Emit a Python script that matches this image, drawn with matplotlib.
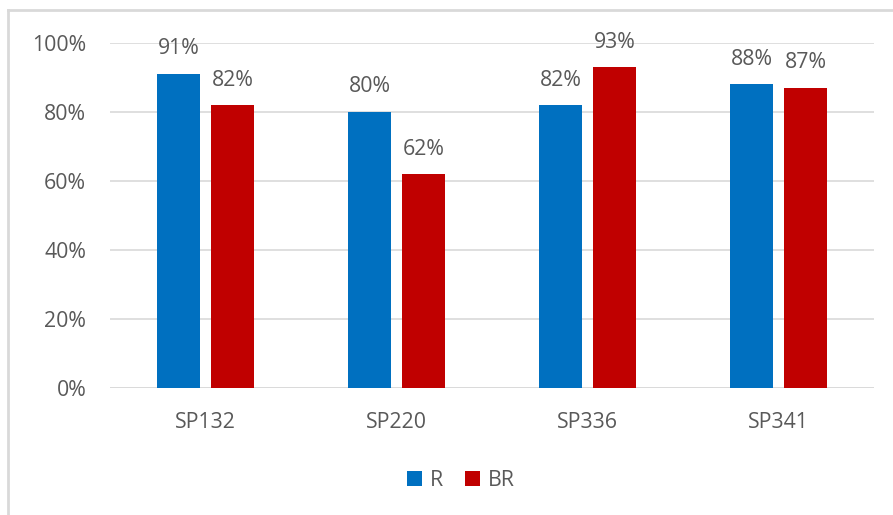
import matplotlib
matplotlib.use("Agg")
import matplotlib.pyplot as plt
from matplotlib.lines import Line2D
import numpy as np

categories = ["SP132", "SP220", "SP336", "SP341"]
r_values = [0.91, 0.80, 0.82, 0.88]
br_values = [0.82, 0.62, 0.93, 0.87]
series_names = ["R", "BR"]
yticks = [0, 0.2, 0.4, 0.6, 0.8, 1.0]
ytick_labels = ["0%", "20%", "40%", "60%", "80%", "100%"]

BLUE = "#0070C0"
RED = "#C00000"
TXT = "#595959"
FONT = "Open Sans"
FS = 15.3

plt.rcParams['font.family'] = [FONT, 'DejaVu Sans']

fig = plt.figure(figsize=(8.93, 5.15), dpi=100)
ax = fig.add_axes([0.123, 0.2466, 0.856, 0.6699])

x = np.arange(len(categories))
w = 0.225
off = 0.141
b1 = ax.bar(x - off, r_values, w, color=BLUE, label=series_names[0], zorder=3)
b2 = ax.bar(x + off, br_values, w, color=RED, label=series_names[1], zorder=3)

for bars, vals in ((b1, r_values), (b2, br_values)):
    for b, v in zip(bars, vals):
        ax.annotate(f"{round(v*100)}%", (b.get_x() + b.get_width()/2, v),
                    xytext=(0, 10.5), textcoords="offset points",
                    ha="center", va="bottom", fontsize=FS, color=TXT)

ax.set_xlim(-0.5, len(categories) - 0.5)
ax.set_ylim(0, 1.0)
ax.set_yticks(yticks)
ax.set_yticklabels(ytick_labels)
ax.set_xticks(x)
ax.set_xticklabels(categories)
ax.tick_params(axis="y", length=0, pad=17, labelsize=FS, labelcolor=TXT)
ax.tick_params(axis="x", length=0, pad=17, labelsize=FS, labelcolor=TXT)
ax.grid(axis="y", color="#D9D9D9", linewidth=1.2, zorder=0)
for s in ax.spines.values():
    s.set_visible(False)
ax.axhline(0, color="#D9D9D9", linewidth=1.2, zorder=2)

leg = fig.legend(handles=[b1, b2], labels=series_names, loc="center",
                 bbox_to_anchor=(461/893, 1 - 480/515), ncol=2, frameon=False,
                 fontsize=FS, labelcolor=TXT, handlelength=0.7, handleheight=0.7,
                 handletextpad=0.4, columnspacing=1.0)

# chart border (top and left visible)
fig.add_artist(Line2D([8/893, 1.0], [1 - 10/515, 1 - 10/515], transform=fig.transFigure,
                      color="#D9D9D9", linewidth=2))
fig.add_artist(Line2D([8/893, 8/893], [0, 1 - 10/515], transform=fig.transFigure,
                      color="#D9D9D9", linewidth=2))

fig.savefig("out.png", dpi=100)
